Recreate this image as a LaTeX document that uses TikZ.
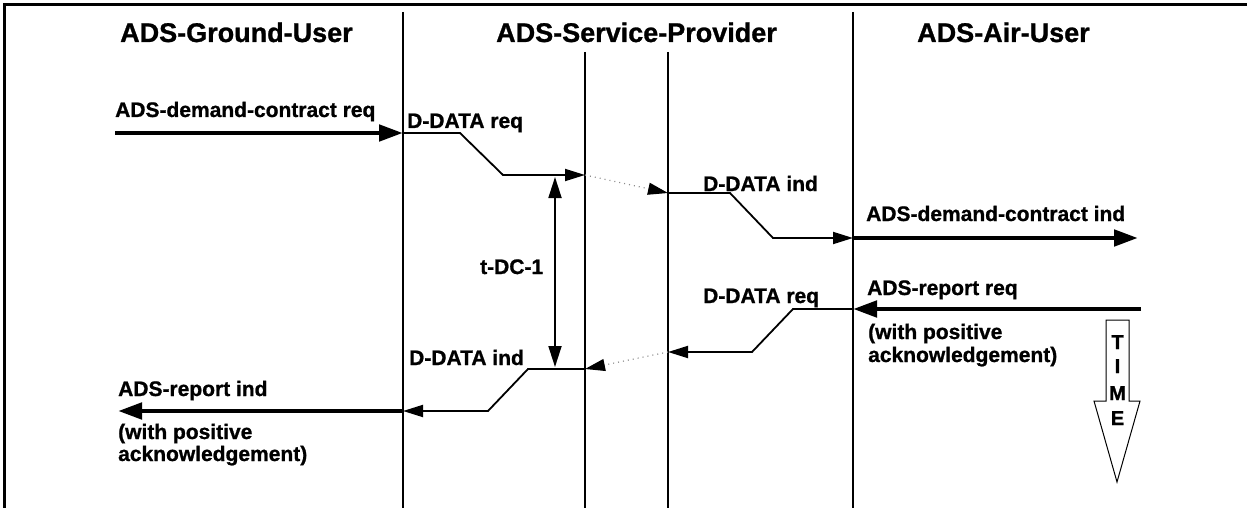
\documentclass[tikz,border=0pt]{standalone}
\usepackage{fontspec}
\setmainfont{Liberation Sans}[BoldFeatures={FakeBold=1}]
\usetikzlibrary{arrows.meta}
\begin{document}
\begin{tikzpicture}[x=1pt,y=-1pt,
  title/.style={font=\fontsize{27}{30}\selectfont\bfseries, anchor=base west, inner sep=0pt},
  lbl/.style={font=\fontsize{21}{24}\selectfont\bfseries, anchor=base west, inner sep=0pt},
  letter/.style={font=\fontsize{20}{22}\selectfont\bfseries, anchor=base, inner sep=0pt},
  lifeline/.style={line width=1.5pt},
  prim/.style={line width=4.8pt, -{Triangle[length=24pt,width=16pt]}},
  sig/.style={line width=1.8pt, line join=miter, -{Triangle[length=20pt,width=12pt]}},
  transit/.style={line width=1.2pt, draw=black!45, dash pattern=on 1pt off 4pt,
                  -{Triangle[length=20pt,width=12pt,color=black]}},
  timer/.style={line width=1.8pt, {Triangle[length=21pt,width=13pt]}-{Triangle[length=21pt,width=13pt]}},
]
\useasboundingbox (0,0) rectangle (1247,508);

% frame
\draw[line width=3pt] (4.5,508) -- (4.5,4.5) -- (1247,4.5);

% column titles
\node[title] (tg) at (120,42) {ADS-Ground-User};
\node[title] (ts) at (496,42) {ADS-Service-Provider};
\node[title] (ta) at (917,42) {ADS-Air-User};

% boundaries and lifelines
\coordinate (gsTop) at (403,12);  \coordinate (gsBot) at (403,508);
\coordinate (saTop) at (853,12);  \coordinate (saBot) at (853,508);
\coordinate (p1Top) at (585,52);  \coordinate (p1Bot) at (585,508);
\coordinate (p2Top) at (668,52);  \coordinate (p2Bot) at (668,508);
\draw[lifeline] (gsTop) -- (gsBot);
\draw[lifeline] (saTop) -- (saBot);
\draw[lifeline] (p1Top) -- (p1Bot);
\draw[lifeline] (p2Top) -- (p2Bot);

% demand contract: ground -> air
\coordinate (a0) at (115,133);
\coordinate (a1) at (403,133);
\coordinate (a2) at (460,133);
\coordinate (a3) at (503,175);
\coordinate (a4) at (585,175);
\coordinate (a5) at (668,193);
\coordinate (a6) at (730,193);
\coordinate (a7) at (773,238);
\coordinate (a8) at (853,238);
\coordinate (a9) at (1138,238);
\draw[prim] (a0) -- (a1);
\draw[sig] (a1) -- (a2) -- (a3) -- (a4);
\draw[transit] (a4) -- (a5);
\draw[sig] (a5) -- (a6) -- (a7) -- (a8);
\draw[prim] (a8) -- (a9);

% report: air -> ground
\coordinate (b0) at (1141,309);
\coordinate (b1) at (853,309);
\coordinate (b2) at (793,309);
\coordinate (b3) at (752,352);
\coordinate (b4) at (668,352);
\coordinate (b5) at (585,369);
\coordinate (b6) at (528,369);
\coordinate (b7) at (488,411);
\coordinate (b8) at (403,411);
\coordinate (b9) at (118,411);
\draw[prim] (b0) -- (b1);
\draw[sig] (b1) -- (b2) -- (b3) -- (b4);
\draw[transit] (b4) -- (b5);
\draw[sig] (b5) -- (b6) -- (b7) -- (b8);
\draw[prim] (b8) -- (b9);

% timer
\coordinate (tm1) at (555,177);
\coordinate (tm2) at (555,367);
\draw[timer] (tm1) -- (tm2);
\node[lbl] (ltimer) at (480,274) {t-DC-1};

% labels
\node[lbl] (l1) at (115,117) {ADS-demand-contract req};
\node[lbl] (l2) at (407,128) {D-DATA req};
\node[lbl] (l3) at (703,191) {D-DATA ind};
\node[lbl] (l4) at (866,221) {ADS-demand-contract ind};
\node[lbl] (l5) at (867,295) {ADS-report req};
\node[lbl] (l5a) at (868,339) {(with positive};
\node[lbl] (l5b) at (868,362) {acknowledgement)};
\node[lbl] (l6) at (703,303) {D-DATA req};
\node[lbl] (l7) at (409,365) {D-DATA ind};
\node[lbl] (l8) at (118,396) {ADS-report ind};
\node[lbl] (l8a) at (118,439) {(with positive};
\node[lbl] (l8b) at (118,461) {acknowledgement)};

% time arrow
\draw[line width=1pt, fill=white]
  (1106,320) -- (1129,320) -- (1129,401) -- (1140,401) -- (1117,482)
  -- (1094,401) -- (1106,401) -- cycle;
\node[letter] (tT) at (1117.5,349) {T};
\node[letter] (tI) at (1117.5,373) {I};
\node[letter] (tM) at (1117.5,400) {M};
\node[letter] (tE) at (1117.5,425) {E};
\end{tikzpicture}
\end{document}
